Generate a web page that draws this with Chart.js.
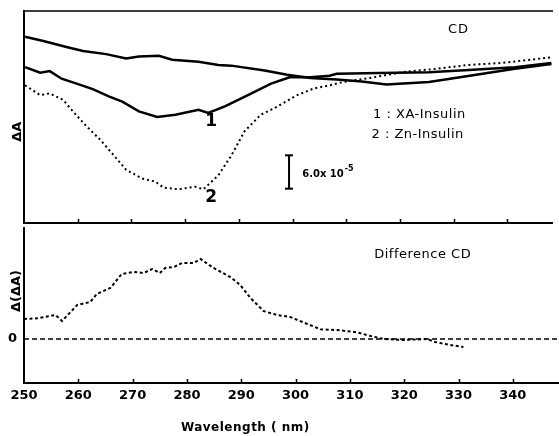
<!DOCTYPE html>
<html>
<head>
<meta charset="utf-8">
<script src="https://cdn.jsdelivr.net/npm/chart.js@4.4.1/dist/chart.umd.min.js"></script>
<style>
  html, body { margin: 0; padding: 0; background: #fff; overflow: hidden; }
  #wrap { position: relative; width: 559px; height: 436px; }
  canvas { position: absolute; left: 0; }
  #cdChart { top: 0; }
  #diffChart { top: 227px; }
</style>
</head>
<body>
<div id="wrap">
  <canvas id="cdChart" width="559" height="229"></canvas>
  <canvas id="diffChart" width="559" height="209"></canvas>
</div>
<script>
// wavelength tick labels (nm)
const tickLabels = [250, 260, 270, 280, 290, 300, 310, 320, 330, 340];

// CD, baseline trace (arbitrary units)
const wavelengthBase = [250.2, 253.6, 257.9, 261.0, 265.3, 269.0, 271.4, 275.1, 277.6, 282.5, 286.2, 288.6, 294.8, 299.0, 303.3, 308.2, 312.9, 317.5, 325.4, 332.7, 341.4, 348.2];
const baseCD = [17.96, 17.55, 16.98, 16.6, 16.29, 15.88, 16.07, 16.13, 15.75, 15.56, 15.25, 15.18, 14.71, 14.3, 13.99, 13.85, 13.64, 13.35, 13.61, 14.18, 14.87, 15.34];

// 1 : XA-Insulin
const wavelengthXA = [250.2, 253.0, 254.8, 257.0, 259.8, 262.8, 265.9, 268.3, 271.4, 274.8, 278.2, 282.5, 284.3, 287.4, 291.7, 296.0, 299.6, 303.3, 306.9, 308.2, 316.2, 325.4, 332.8, 341.4, 348.2];
const xaCD = [15.03, 14.49, 14.65, 13.92, 13.45, 12.91, 12.19, 11.71, 10.77, 10.23, 10.45, 10.92, 10.61, 11.24, 12.34, 13.45, 14.08, 14.06, 14.2, 14.39, 14.46, 14.55, 14.77, 15.03, 15.44];

// 2 : Zn-Insulin
const wavelengthZn = [250.2, 253.0, 254.8, 257.3, 259.1, 261.6, 264.1, 266.5, 269.0, 272.0, 274.5, 276.0, 278.8, 281.9, 283.4, 286.2, 288.6, 291.1, 294.1, 296.6, 300.9, 303.9, 307.0, 309.5, 311.3, 314.4, 320.5, 326.7, 332.8, 339.0, 348.2];
const znCD = [13.29, 12.34, 12.5, 11.87, 10.77, 9.35, 8.08, 6.66, 5.14, 4.29, 3.98, 3.41, 3.25, 3.5, 3.25, 4.61, 6.51, 8.87, 10.45, 11.08, 12.34, 12.97, 13.29, 13.61, 13.76, 13.99, 14.55, 14.87, 15.25, 15.44, 15.98];

// scale bar (6.0 x 10^-5)
const barWavelength = [299.35, 299.35];
const barCD = [3.31, 6.53];

// Difference CD
const wavelengthDiff = [250.0, 252.4, 255.8, 257.0, 259.8, 262.2, 263.4, 265.9, 268.0, 270.2, 272.0, 273.6, 275.0, 276.0, 277.6, 279.1, 281.2, 282.5, 284.9, 288.0, 289.8, 291.7, 294.1, 296.6, 299.0, 304.6, 307.6, 311.3, 313.8, 316.2, 319.9, 324.2, 325.7, 328.5, 330.9];
const diffCD = [2.0, 2.07, 2.4, 1.8, 3.4, 3.7, 4.5, 5.1, 6.5, 6.7, 6.6, 7.0, 6.6, 7.1, 7.2, 7.6, 7.6, 8.0, 7.1, 6.2, 5.4, 4.1, 2.8, 2.4, 2.2, 0.97, 0.9, 0.67, 0.3, 0, -0.1, 0, -0.3, -0.6, -0.8];
const zeroWavelength = [250, 348.5];
const zeroCD = [0, 0];

const zip = (xs, ys) => xs.map((x, i) => ({ x, y: ys[i] }));

Chart.defaults.font.family = '"DejaVu Sans", sans-serif';
Chart.defaults.color = '#000';

// axis frame + inward tick marks
const framePlugin = {
  id: 'frame',
  afterDraw(chart, args, opts) {
    const { ctx, chartArea: a } = chart;
    const x = chart.scales.x;
    const line = (x1, y1, x2, y2) => { ctx.beginPath(); ctx.moveTo(x1, y1); ctx.lineTo(x2, y2); ctx.stroke(); };
    ctx.save();
    ctx.strokeStyle = '#000';
    if (opts.top) { ctx.lineWidth = 1.5; line(a.left, a.top, a.right, a.top); }
    if (opts.bottom) { ctx.lineWidth = 2; line(a.left - 1, a.bottom, a.right, a.bottom); }
    ctx.lineWidth = 1.5;
    tickLabels.forEach((v) => {
      if (v === 250) return;
      const px = Math.round(x.getPixelForValue(v)) + 0.5;
      line(px, a.bottom, px, a.bottom - 4);
    });
    ctx.restore();
  },
};

// text notes placed in data coordinates
const notesPlugin = {
  id: 'notes',
  afterDatasetsDraw(chart, args, opts) {
    const { ctx } = chart;
    const { x, y } = chart.scales;
    (opts.items || []).forEach((n) => {
      ctx.save();
      ctx.fillStyle = '#000';
      ctx.textBaseline = 'middle';
      ctx.font = n.font;
      ctx.textAlign = n.align || 'center';
      ctx.letterSpacing = n.spacing || '0px';
      ctx.translate(x.getPixelForValue(n.at[0]), y.getPixelForValue(n.at[1]));
      if (n.rotate) ctx.rotate(-Math.PI / 2);
      ctx.fillText(n.text, 0, 0);
      if (n.sup) {
        const w = ctx.measureText(n.text).width;
        ctx.font = n.supFont;
        ctx.textAlign = 'left';
        ctx.fillText(n.sup, w + 1, -6);
      }
      ctx.restore();
    });
  },
};

const noPad = (s) => { s.paddingTop = 0; s.paddingBottom = 0; s.paddingLeft = 0; s.paddingRight = 0; };

new Chart(document.getElementById('cdChart'), {
  type: 'line',
  data: {
    datasets: [
      { label: 'baseline', data: zip(wavelengthBase, baseCD), borderColor: '#000', borderWidth: 2.5 },
      { label: '1 : XA-Insulin', data: zip(wavelengthXA, xaCD), borderColor: '#000', borderWidth: 2.5 },
      { label: '2 : Zn-Insulin', data: zip(wavelengthZn, znCD), borderColor: '#000', borderWidth: 2, borderDash: [2, 3] },
      {
        label: 'scale',
        data: zip(barWavelength, barCD),
        borderColor: '#000',
        borderWidth: 2,
        pointStyle: 'line',
        pointRadius: 4,
        pointBorderWidth: 2,
        pointBorderColor: '#000',
      },
    ],
  },
  options: {
    responsive: false,
    animation: false,
    layout: { padding: { top: 11, bottom: 2, left: 0, right: 0 } },
    elements: { point: { radius: 0 }, line: { tension: 0, fill: false } },
    plugins: {
      legend: { display: false },
      tooltip: { enabled: false },
      frame: { top: true, bottom: true },
      notes: {
        items: [
          { text: 'CD', at: [330.9, 18.66], font: '13px "DejaVu Sans"', spacing: '1px' },
          { text: '1 : XA-Insulin', at: [315.0, 10.42], font: '13px "DejaVu Sans"', align: 'left', spacing: '0.5px' },
          { text: '2 : Zn-Insulin', at: [314.7, 8.52], font: '13px "DejaVu Sans"', align: 'left', spacing: '0.5px' },
          { text: '1', at: [284.86, 9.75], font: 'bold 17px "DejaVu Sans"' },
          { text: '2', at: [284.86, 2.46], font: 'bold 17px "DejaVu Sans"' },
          { text: '6.0x 10', at: [301.8, 4.64], font: 'bold 10px "DejaVu Sans"', align: 'left', sup: '-5', supFont: 'bold 8px "DejaVu Sans"' },
          { text: 'ΔA', at: [248.8, 8.8], font: 'bold 13px "DejaVu Sans"', rotate: true },
        ],
      },
    },
    scales: {
      x: { type: 'linear', min: 250, max: 348.5, display: false },
      y: {
        min: 0,
        max: 20.45,
        afterFit: (s) => { s.width = 24; noPad(s); },
        ticks: { display: false },
        grid: { drawOnChartArea: false, drawTicks: false },
        border: { color: '#000', width: 2 },
      },
    },
  },
  plugins: [framePlugin, notesPlugin],
});

new Chart(document.getElementById('diffChart'), {
  type: 'line',
  data: {
    datasets: [
      { label: 'Difference CD', data: zip(wavelengthDiff, diffCD), borderColor: '#000', borderWidth: 2, borderDash: [3, 2.5] },
      { label: 'zero', data: zip(zeroWavelength, zeroCD), borderColor: '#000', borderWidth: 1.5, borderDash: [5, 3] },
    ],
  },
  options: {
    responsive: false,
    animation: false,
    layout: { padding: { top: 0, bottom: 33, left: 0, right: 0 } },
    elements: { point: { radius: 0 }, line: { tension: 0, fill: false } },
    plugins: {
      legend: { display: false },
      tooltip: { enabled: false },
      frame: { top: false, bottom: false },
      notes: {
        items: [
          { text: 'Difference CD', at: [323.4, 8.4], font: '13px "DejaVu Sans"', spacing: '0.5px' },
          { text: 'Δ(ΔA)', at: [248.6, 4.8], font: 'bold 13px "DejaVu Sans"', rotate: true },
          { text: 'Wavelength ( nm)', at: [290.75, -8.9], font: 'bold 12px "DejaVu Sans"', spacing: '0.5px' },
        ],
      },
    },
    scales: {
      x: {
        type: 'linear',
        min: 250,
        max: 348.5,
        afterBuildTicks: (s) => { s.ticks = tickLabels.map((v) => ({ value: v })); },
        afterFit: (s) => { s.height = 20; noPad(s); },
        ticks: { font: { size: 13, weight: 'bold' }, color: '#000', padding: 5, autoSkip: false, maxRotation: 0 },
        grid: { drawOnChartArea: false, drawTicks: false },
        border: { color: '#000', width: 2 },
      },
      y: {
        min: -4.4,
        max: 11.2,
        afterBuildTicks: (s) => { s.ticks = [{ value: 0 }]; },
        afterFit: (s) => { s.width = 24; noPad(s); },
        ticks: { font: { size: 13, weight: 'bold' }, color: '#000', padding: 7 },
        grid: { drawOnChartArea: false, drawTicks: false },
        border: { color: '#000', width: 2 },
      },
    },
  },
  plugins: [framePlugin, notesPlugin],
});
</script>
</body>
</html>
